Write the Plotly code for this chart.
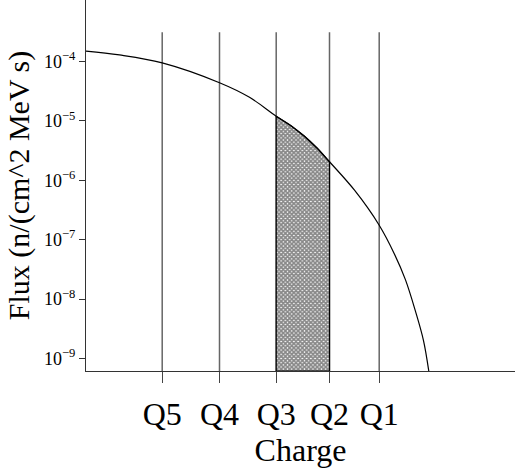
import plotly.graph_objects as go

# --- data ---
q_labels = ["Q5", "Q4", "Q3", "Q2", "Q1"]
q_pos = [76.2, 133.5, 190.2, 243.5, 293.2]

curve_x = [0, 33.5, 76.2, 133.5, 163.5, 190.2, 205, 218.5, 231, 243.5,
           268.5, 293.2, 308.5, 319.5, 329.5, 337.5, 342.8]
curve_flux = [1.50e-4, 1.29e-4, 9.5e-5, 4.4e-5, 2.5e-5, 1.2e-5, 8.3e-6, 5.5e-6,
              3.5e-6, 2.05e-6, 6.8e-7, 1.75e-7, 5.7e-8, 2.1e-8, 6.2e-9, 2.0e-9, 6.1e-10]

y_tickvals = [1e-4, 1e-5, 1e-6, 1e-7, 1e-8, 1e-9]
y_ticktext = ["10<sup>−4</sup>", "10<sup>−5</sup>", "10<sup>−6</sup>",
              "10<sup>−7</sup>", "10<sup>−8</sup>", "10<sup>−9</sup>"]

y_log_range = [-9.212, -2.964]
x_range = [0, 429]
line_top = 3.1e-4
shade_from, shade_to = "Q3", "Q2"

FONT = "Liberation Serif, Times New Roman, serif"

y_bot = 10 ** y_log_range[0]

fig = go.Figure()

# vertical charge lines
vx, vy = [], []
for q in q_pos:
    vx += [q, q, None]
    vy += [y_bot, line_top, None]
fig.add_trace(go.Scatter(x=vx, y=vy, mode="lines",
                         line=dict(color="#666666", width=1.5),
                         hoverinfo="skip", showlegend=False))

# hatched region between Q3 and Q2 below the curve
xa = q_pos[q_labels.index(shade_from)]
xb = q_pos[q_labels.index(shade_to)]
px = [xa]
py = [y_bot]
for x, f in zip(curve_x, curve_flux):
    if xa <= x <= xb:
        px.append(x)
        py.append(f)
px += [xb, xa]
py += [y_bot, y_bot]
fig.add_trace(go.Scatter(x=px, y=py, mode="lines", fill="toself",
                         fillcolor="rgba(0,0,0,0)",
                         fillpattern=dict(shape="x", size=3, solidity=0.8,
                                          fgcolor="#111111", bgcolor="white"),
                         line=dict(color="black", width=1.2),
                         hoverinfo="skip", showlegend=False))

# flux curve
fig.add_trace(go.Scatter(x=curve_x, y=curve_flux, mode="lines",
                         line=dict(color="black", width=1.2, shape="spline"),
                         hoverinfo="skip", showlegend=False))

fig.update_layout(
    width=515, height=471,
    margin=dict(l=86, r=0, t=0, b=100),
    paper_bgcolor="white", plot_bgcolor="white",
    font=dict(family=FONT, color="black"),
    showlegend=False,
)
fig.update_xaxes(
    range=x_range, showgrid=False, zeroline=False,
    showline=True, linecolor="#333333", linewidth=1,
    ticks="outside", ticklen=11, tickcolor="#444444", tickwidth=1,
    tickmode="array", tickvals=q_pos, ticktext=q_labels,
    tickfont=dict(size=32, family=FONT), ticklabelstandoff=4,
    title=dict(text="Charge", font=dict(size=32, family=FONT), standoff=0),
)
fig.update_yaxes(
    type="log", range=y_log_range, showgrid=False, zeroline=False,
    showline=True, linecolor="#333333", linewidth=1,
    ticks="outside", ticklen=6, tickcolor="#333333", tickwidth=1,
    tickmode="array", tickvals=y_tickvals, ticktext=y_ticktext,
    tickfont=dict(size=18, family=FONT),
    title=dict(text="Flux (n/(cm^2 MeV s)", font=dict(size=30, family=FONT), standoff=5),
)

fig.write_html("out.html")
